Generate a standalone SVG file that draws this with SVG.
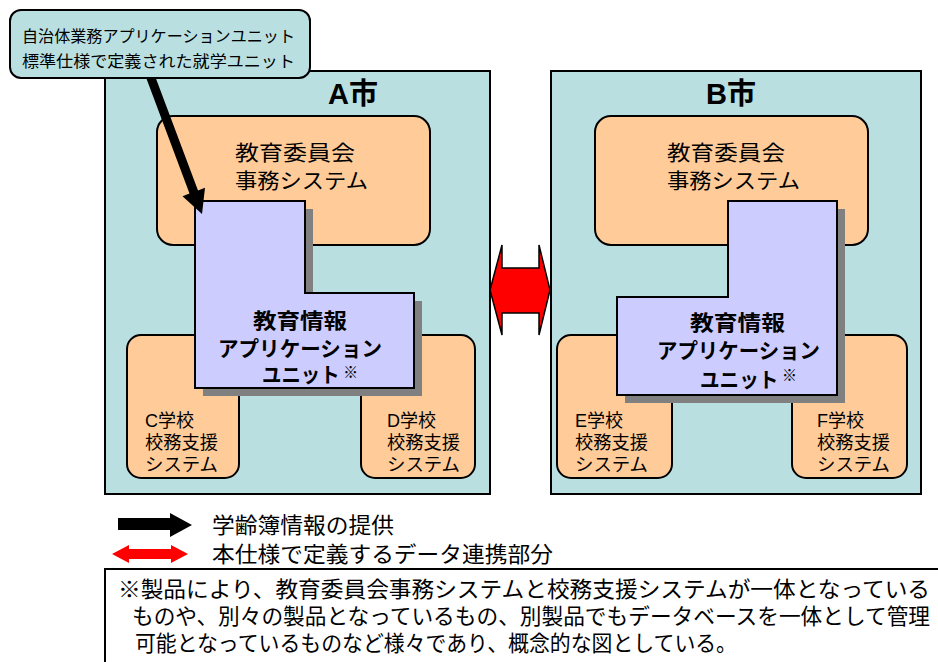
<svg xmlns="http://www.w3.org/2000/svg" width="938" height="662" viewBox="0 0 938 662">
<style>
text{font-family:"Liberation Sans","Noto Sans CJK JP",sans-serif;fill:#000}
.city{fill:#b9dfe1;stroke:#000;stroke-width:2}
.sys{fill:#ffcc99;stroke:#000;stroke-width:2}
.unit{fill:#ccccff;stroke:#000;stroke-width:2}
.shadow{fill:#808080}
.t21{font-size:21px}
.t18{font-size:18px}
.b21{font-size:21px;font-weight:bold}
.mark{font-size:16px;font-weight:normal}
.title{font-size:29px;font-weight:bold}
.leg{font-size:22px}
.note{font-size:22px}
</style>
<rect x="0" y="0" width="938" height="662" fill="#fff"/>

<g id="cityA">
<rect class="city" x="105" y="71" width="385" height="423"/>
<text class="title" x="328" y="104">A市</text>
</g>
<g id="cityB">
<rect class="city" x="551" y="71" width="370" height="423"/>
<text class="title" x="706" y="104">B市</text>
</g>

<g id="boardA">
<rect class="sys" x="157" y="116" width="273" height="129" rx="16"/>
<text class="t21" x="235" y="160" textLength="120" lengthAdjust="spacingAndGlyphs">教育委員会</text>
<text class="t21" x="235" y="188" textLength="133" lengthAdjust="spacingAndGlyphs">事務システム</text>
</g>
<g id="schoolC">
<rect class="sys" x="127" y="335" width="112" height="143" rx="14"/>
<text class="t18" x="145" y="427">C学校</text>
<text class="t18" x="145" y="449" textLength="73" lengthAdjust="spacingAndGlyphs">校務支援</text>
<text class="t18" x="145" y="471" textLength="73" lengthAdjust="spacingAndGlyphs">システム</text>
</g>
<g id="schoolD">
<rect class="sys" x="361" y="335" width="114" height="143" rx="14"/>
<text class="t18" x="387" y="427">D学校</text>
<text class="t18" x="387" y="449" textLength="73" lengthAdjust="spacingAndGlyphs">校務支援</text>
<text class="t18" x="387" y="471" textLength="73" lengthAdjust="spacingAndGlyphs">システム</text>
</g>
<g id="unitA">
<polygon class="shadow" points="203,209 313,209 313,301 422,301 422,396 203,396"/>
<polygon class="unit" points="195,201 305,201 305,293 414,293 414,388 195,388"/>
<text class="b21" x="253" y="328" textLength="94" lengthAdjust="spacingAndGlyphs">教育情報</text>
<text class="b21" x="218" y="356" textLength="164" lengthAdjust="spacingAndGlyphs">アプリケーション</text>
<text class="b21" x="262" y="382" textLength="96" lengthAdjust="spacingAndGlyphs">ユニット<tspan class="mark" dx="4" dy="-4">※</tspan></text>
</g>

<g id="boardB">
<rect class="sys" x="595" y="116" width="273" height="129" rx="16"/>
<text class="t21" x="667" y="160" textLength="118" lengthAdjust="spacingAndGlyphs">教育委員会</text>
<text class="t21" x="667" y="188" textLength="133" lengthAdjust="spacingAndGlyphs">事務システム</text>
</g>
<g id="schoolE">
<rect class="sys" x="557" y="335" width="115" height="143" rx="14"/>
<text class="t18" x="575" y="427">E学校</text>
<text class="t18" x="575" y="449" textLength="73" lengthAdjust="spacingAndGlyphs">校務支援</text>
<text class="t18" x="575" y="471" textLength="73" lengthAdjust="spacingAndGlyphs">システム</text>
</g>
<g id="schoolF">
<rect class="sys" x="792" y="335" width="115" height="143" rx="14"/>
<text class="t18" x="817" y="427">F学校</text>
<text class="t18" x="817" y="449" textLength="73" lengthAdjust="spacingAndGlyphs">校務支援</text>
<text class="t18" x="817" y="471" textLength="73" lengthAdjust="spacingAndGlyphs">システム</text>
</g>
<g id="unitB">
<polygon class="shadow" points="736,209 845,209 845,403 625,403 625,305 736,305"/>
<polygon class="unit" points="728,201 837,201 837,395 617,395 617,297 728,297"/>
<text class="b21" x="690" y="330" textLength="95" lengthAdjust="spacingAndGlyphs">教育情報</text>
<text class="b21" x="657" y="358" textLength="163" lengthAdjust="spacingAndGlyphs">アプリケーション</text>
<text class="b21" x="700" y="387" textLength="97" lengthAdjust="spacingAndGlyphs">ユニット<tspan class="mark" dx="4" dy="-6">※</tspan></text>
</g>

<g id="connectors">
<polygon fill="#000" points="143.8,71.6 152.2,68.4 198,190.4 205,187.8 202,214 182.5,196.2 189.5,193.6"/>
<polygon fill="#ff0000" stroke="#000" stroke-width="1.5" points="490,290 502,245 502,268 539,268 539,245 550,290 539,335 539,313 502,313 502,335"/>
</g>

<g id="callout">
<rect x="10" y="10" width="300" height="68" rx="11" fill="#b9dfe1" stroke="#000" stroke-width="2"/>
<text x="22" y="42" font-size="16" textLength="273" lengthAdjust="spacingAndGlyphs">自治体業務アプリケーションユニット</text>
<text x="22" y="67" font-size="16" textLength="273" lengthAdjust="spacingAndGlyphs">標準仕様で定義された就学ユニット</text>
</g>

<g id="legend">
<polygon fill="#000" points="118,518 170,518 170,513 192,525 170,537 170,530 118,530"/>
<text class="leg" x="212" y="533" textLength="182" lengthAdjust="spacingAndGlyphs">学齢簿情報の提供</text>
<polygon fill="#ff0000" points="112,554 129,545 129,549 171,549 171,545 188,554 171,563 171,559 129,559 129,563"/>
<text class="leg" x="212" y="562" textLength="341" lengthAdjust="spacingAndGlyphs">本仕様で定義するデータ連携部分</text>
</g>

<g id="note">
<rect x="105" y="569" width="860" height="110" fill="#fff" stroke="#000" stroke-width="2"/>
<text class="note" x="118" y="597" textLength="812" lengthAdjust="spacingAndGlyphs">※製品により、教育委員会事務システムと校務支援システムが一体となっている</text>
<text class="note" x="132" y="624" textLength="798" lengthAdjust="spacingAndGlyphs">ものや、別々の製品となっているもの、別製品でもデータベースを一体として管理</text>
<text class="note" x="135" y="651" textLength="602" lengthAdjust="spacingAndGlyphs">可能となっているものなど様々であり、概念的な図としている。</text>
</g>
</svg>
